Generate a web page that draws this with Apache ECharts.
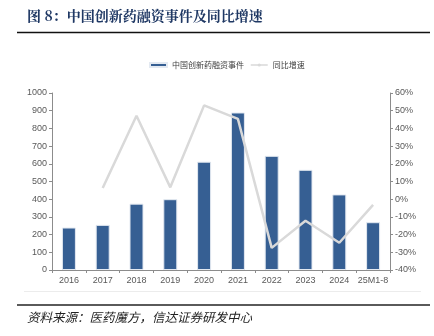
<!DOCTYPE html>
<html>
<head>
<meta charset="utf-8">
<script src="https://cdn.jsdelivr.net/npm/echarts@6/dist/echarts.min.js"></script>
<style>
  html, body { margin: 0; padding: 0; background: #fff; }
  #chart { width: 434px; height: 336px; }
</style>
</head>
<body>
<div id="chart"></div>
<script>
// 中国创新药融资事件（件）及同比增速（%）
const categories = ['2016', '2017', '2018', '2019', '2020', '2021', '2022', '2023', '2024', '25M1-8'];
const financingEvents = [240, 255, 375, 400, 612, 890, 645, 566, 427, 270];
const yoyGrowth = [null, 6.3, 47.1, 6.7, 53.0, 45.4, -27.5, -12.2, -24.6, -3.2];
const leftTicks = { min: 0, max: 1000, interval: 100 };
const rightTicks = { min: -40, max: 60, interval: 10 };

const chart = echarts.init(document.getElementById('chart'), null, { renderer: 'canvas' });

const labelFont = { fontSize: 9, color: '#595959', fontFamily: 'Liberation Sans, Arial, sans-serif' };
const axisLineStyle = { color: '#8c8c8c', width: 1 };

chart.setOption({
  animation: false,
  backgroundColor: '#ffffff',
  grid: { left: 52, right: 44, top: 93, bottom: 66, containLabel: false },
  legend: {
    top: 56,
    left: 144,
    itemWidth: 17,
    itemHeight: 4,
    itemGap: 6,
    textStyle: { fontSize: 8, color: '#404040', fontFamily: 'Noto Sans CJK SC, sans-serif' },
    data: [
      { name: '中国创新药融资事件', icon: 'rect' },
      { name: '同比增速', lineStyle: { width: 1.5, color: '#d9d9d9' } }
    ]
  },
  xAxis: {
    type: 'category',
    data: categories,
    boundaryGap: true,
    axisLine: { lineStyle: axisLineStyle },
    axisTick: { show: true, alignWithLabel: false, length: 3, lineStyle: axisLineStyle },
    axisLabel: Object.assign({ margin: 6, interval: 0 }, labelFont),
    splitLine: { show: false }
  },
  yAxis: [
    {
      type: 'value',
      min: leftTicks.min,
      max: leftTicks.max,
      interval: leftTicks.interval,
      axisLine: { show: true, lineStyle: axisLineStyle },
      axisTick: { show: true, length: 3, lineStyle: axisLineStyle },
      axisLabel: Object.assign({ margin: 5, formatter: (v) => String(v) }, labelFont),
      splitLine: { show: false }
    },
    {
      type: 'value',
      min: rightTicks.min,
      max: rightTicks.max,
      interval: rightTicks.interval,
      position: 'right',
      axisLine: { show: true, lineStyle: axisLineStyle },
      axisTick: { show: true, length: 3, lineStyle: axisLineStyle },
      axisLabel: Object.assign({ margin: 5, formatter: '{value}%' }, labelFont),
      splitLine: { show: false }
    }
  ],
  series: [
    {
      name: '中国创新药融资事件',
      type: 'bar',
      yAxisIndex: 0,
      data: financingEvents,
      barWidth: 14,
      itemStyle: { color: '#365f93', borderColor: '#e3e9f1', borderWidth: 1 }
    },
    {
      name: '同比增速',
      type: 'line',
      yAxisIndex: 1,
      data: yoyGrowth,
      showSymbol: false,
      symbol: 'none',
      connectNulls: false,
      lineStyle: { color: '#d9d9d9', width: 2.5 },
      itemStyle: { color: '#d9d9d9' }
    }
  ],
  graphic: [
    {
      type: 'text',
      left: 27,
      top: 9,
      style: {
        text: '图 8：中国创新药融资事件及同比增速',
        fill: '#1f3864',
        font: 'bold 14px "Noto Serif CJK SC", "Noto Sans CJK SC", serif'
      }
    },
    {
      type: 'line',
      shape: { x1: 17, y1: 32.5, x2: 430, y2: 32.5 },
      style: { stroke: '#111111', lineWidth: 1.5 }
    },
    {
      type: 'line',
      shape: { x1: 24, y1: 291.5, x2: 421, y2: 291.5 },
      style: { stroke: '#ececec', lineWidth: 1 }
    },
    {
      type: 'line',
      shape: { x1: 17, y1: 305, x2: 430, y2: 305 },
      style: { stroke: '#5a5a5a', lineWidth: 2 }
    },
    {
      type: 'text',
      left: 27,
      top: 311,
      style: {
        text: '资料来源：医药魔方，信达证券研发中心',
        fill: '#222222',
        font: 'italic 12.5px "Noto Sans CJK SC", sans-serif'
      }
    }
  ]
});
</script>
</body>
</html>
